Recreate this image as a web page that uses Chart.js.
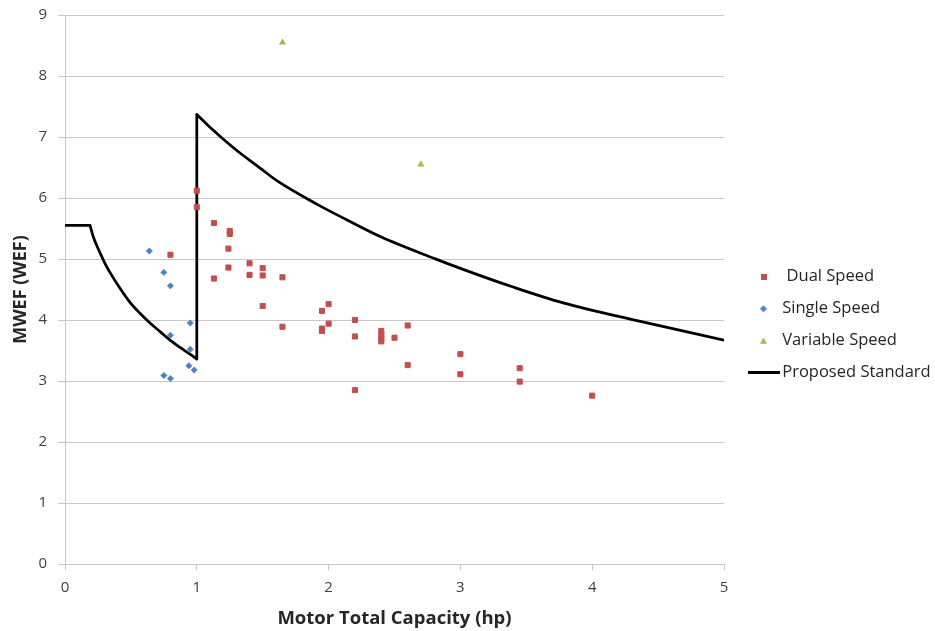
<!DOCTYPE html>
<html><head><meta charset="utf-8">
<script src="https://cdn.jsdelivr.net/npm/chart.js@4"></script>
<style>html,body{margin:0;padding:0;background:#fff;}#wrap{width:935px;height:631px;}</style>
</head><body><div id="wrap"><canvas id="c" width="935" height="631"></canvas></div>
<script>
// ---- data ----
const seriesNames = [' Dual Speed', 'Single Speed', 'Variable Speed', 'Proposed Standard'];
const dualX = [0.80, 1.00, 1.00, 1.13, 1.13, 1.25, 1.25, 1.24, 1.24, 1.40, 1.40, 1.50, 1.50, 1.50, 1.65, 1.65,
               1.95, 1.95, 1.95, 2.00, 2.00, 2.20, 2.20, 2.20, 2.40, 2.40, 2.40, 2.40, 2.50, 2.60, 2.60,
               3.00, 3.00, 3.45, 3.45, 4.00];
const dualY = [5.07, 6.12, 5.85, 5.59, 4.68, 5.46, 5.41, 5.17, 4.86, 4.93, 4.74, 4.85, 4.73, 4.23, 4.70, 3.89,
               4.15, 3.86, 3.82, 4.26, 3.94, 4.00, 3.73, 2.85, 3.82, 3.76, 3.70, 3.65, 3.71, 3.91, 3.26,
               3.44, 3.11, 3.21, 2.99, 2.76];
const singleX = [0.64, 0.75, 0.80, 0.95, 0.80, 0.95, 0.94, 0.98, 0.75, 0.80];
const singleY = [5.13, 4.78, 4.56, 3.95, 3.75, 3.52, 3.25, 3.18, 3.09, 3.04];
const variableX = [1.65, 2.70];
const variableY = [8.55, 6.55];
// Proposed standard: flat part, curve below 1 hp, vertical step at 1 hp, curve above 1 hp
const standardX = [0, 0.19, 0.215, 0.266, 0.303, 0.341, 0.417, 0.493, 0.569, 0.645, 0.721, 0.797, 0.873, 0.948, 1.0,
                   1.0, 1.1, 1.28, 1.48, 1.61, 1.91, 2.14, 2.4, 2.8, 3.02, 3.4, 3.78, 4.34, 4.67, 5.0];
const standardY = [5.55, 5.55, 5.36, 5.10, 4.93, 4.78, 4.52, 4.29, 4.11, 3.95, 3.81, 3.67, 3.55, 3.44, 3.36,
                   7.37, 7.16, 6.82, 6.49, 6.28, 5.90, 5.64, 5.36, 5.01, 4.83, 4.54, 4.28, 3.99, 3.83, 3.67];
const standardBreaks = [1, 14, 15]; // corners of the standard line (flat end, step bottom, step top)
const xTicks = [0, 1, 2, 3, 4, 5];
const yTicks = [0, 1, 2, 3, 4, 5, 6, 7, 8, 9];

const RED = '#C0504D', BLUE = '#4F81BD', GREEN = '#9BBB59';
const pts = (xs, ys) => xs.map((x, i) => ({x: x, y: ys[i]}));
function piecewise(xs, ys, breaks) {
  const out = [];
  xs.forEach((x, i) => {
    out.push({x: x, y: ys[i]});
    if (breaks.includes(i)) { out.push({x: x, y: null}); out.push({x: x, y: ys[i]}); }
  });
  return out;
}

// legend swatches
function swatch(w, h, draw) {
  const c = document.createElement('canvas'); c.width = w; c.height = h;
  draw(c.getContext('2d')); return c;
}
const legendImgs = [
  swatch(6, 6, g => { g.fillStyle = RED; g.fillRect(0, 0, 6, 6); }),
  swatch(8, 8, g => { g.fillStyle = BLUE; g.beginPath(); g.moveTo(4, 0.5); g.lineTo(7.5, 4); g.lineTo(4, 7.5); g.lineTo(0.5, 4); g.closePath(); g.fill(); }),
  swatch(8, 8, g => { g.fillStyle = GREEN; g.beginPath(); g.moveTo(4, 0.5); g.lineTo(7.5, 7); g.lineTo(0.5, 7); g.closePath(); g.fill(); }),
  swatch(32, 3, g => { g.fillStyle = '#000'; g.fillRect(0, 0, 32, 3); })
];

const legendPlace = {
  id: 'legendPlace',
  afterLayout(chart) {
    const lg = chart.legend; if (!lg) return;
    const w = lg.width, h = lg.height;
    lg.left = 737.5; lg.top = 253; lg.right = lg.left + w; lg.bottom = lg.top + h;
  }
};

const TXT = '#404040';
new Chart(document.getElementById('c'), {
  type: 'scatter',
  data: {
    datasets: [
      {label: seriesNames[0], data: pts(dualX, dualY), pointStyle: 'rect', pointRadius: 3.6, pointBorderWidth: 1,
       backgroundColor: RED, borderColor: RED},
      {label: seriesNames[1], data: pts(singleX, singleY), pointStyle: 'rectRot', pointRadius: 3.2, pointBorderWidth: 0.5,
       backgroundColor: BLUE, borderColor: BLUE},
      {label: seriesNames[2], data: pts(variableX, variableY), pointStyle: 'triangle', pointRadius: 3.6, pointBorderWidth: 0.5,
       backgroundColor: GREEN, borderColor: GREEN},
      {label: seriesNames[3], data: piecewise(standardX, standardY, standardBreaks), showLine: true, spanGaps: false,
       cubicInterpolationMode: 'monotone', pointRadius: 0,
       borderColor: '#000', backgroundColor: '#000', borderWidth: 2.75, borderJoinStyle: 'round', borderCapStyle: 'round'}
    ]
  },
  options: {
    responsive: false, animation: false, events: [],
    layout: {padding: {left: 0, right: 211, top: 15, bottom: 0}},
    plugins: {
      tooltip: {enabled: false},
      legend: {
        position: 'chartArea', align: 'start',
        labels: {
          usePointStyle: true, pointStyleWidth: 21, padding: 15.5, color: '#262626',
          font: {family: 'Open Sans', size: 16.5},
          generateLabels: () => legendImgs.map((img, i) => ({
            text: seriesNames[i], pointStyle: img, fillStyle: '#000', strokeStyle: '#000',
            lineWidth: 0, hidden: false, datasetIndex: i, fontColor: '#262626'
          }))
        }
      }
    },
    scales: {
      x: {
        type: 'linear', min: 0, max: 5,
        afterBuildTicks: s => { s.ticks = xTicks.map(v => ({value: v})); },
        afterFit: s => { s.height = 67; s.paddingLeft = 0; s.paddingRight = 0; },
        grid: {display: true, drawOnChartArea: false, drawTicks: true, tickLength: 6, color: '#c8c8c8', lineWidth: 1},
        border: {display: true, color: '#c8c8c8', width: 1},
        ticks: {color: TXT, font: {family: 'Open Sans', size: 15}, padding: 9, maxRotation: 0},
        title: {display: true, text: 'Motor Total Capacity (hp)', color: '#262626',
                font: {family: 'Open Sans', size: 18.5, weight: 'bold'}, padding: {top: 0, bottom: 1}}
      },
      y: {
        type: 'linear', min: 0, max: 9,
        afterBuildTicks: s => { s.ticks = yTicks.map(v => ({value: v})); },
        afterFit: s => { s.width = 65; s.paddingTop = 0; s.paddingBottom = 0; },
        grid: {display: true, drawTicks: true, tickLength: 7, color: '#c8c8c8', lineWidth: 1},
        border: {display: true, color: '#c8c8c8', width: 1},
        ticks: {color: TXT, font: {family: 'Open Sans', size: 15}, padding: 11},
        title: {display: true, text: 'MWEF (WEF)', color: '#262626',
                font: {family: 'Open Sans', size: 18, weight: 'bold'}, padding: {top: 10, bottom: 0}}
      }
    }
  },
  plugins: [legendPlace]
});
</script>
</body></html>
